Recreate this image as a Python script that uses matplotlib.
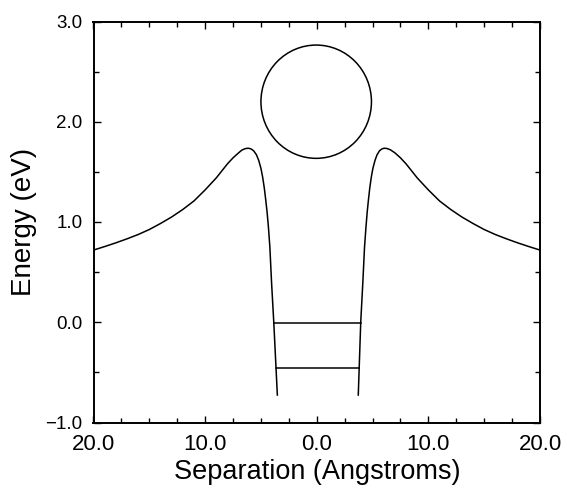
import matplotlib

matplotlib.use("Agg")
import matplotlib.pyplot as plt
from matplotlib.patches import Ellipse
from matplotlib.ticker import FixedLocator, FuncFormatter, MultipleLocator

# potential curve, left branch (from far side in to the well wall)
left_x = [-20.0, -19.0, -18.0, -17.0, -16.0, -15.0, -14.0, -13.0, -12.0, -11.0,
          -10.0, -9.5, -9.0, -8.5, -8.0, -7.5, -7.0, -6.7, -6.4, -6.15, -5.9,
          -5.65, -5.4, -5.2, -5.0, -4.85, -4.7, -4.57, -4.45, -4.33, -4.2,
          -4.05, -3.85, -3.53]
left_y = [0.72, 0.755, 0.792, 0.832, 0.875, 0.925, 0.985, 1.05, 1.125, 1.21,
          1.32, 1.38, 1.44, 1.51, 1.58, 1.64, 1.69, 1.718, 1.732, 1.736, 1.73,
          1.71, 1.67, 1.615, 1.535, 1.45, 1.34, 1.22, 1.1, 0.95, 0.75,
          0.4, 0.0, -0.726]

# right branch (from well wall out to the far side)
right_x = [3.72, 3.94, 4.13, 4.28, 4.41, 4.52, 4.63, 4.75, 4.89, 5.03, 5.22,
           5.4, 5.62, 5.85, 6.05, 6.3, 6.6, 7.0, 7.5, 8.0, 8.5, 9.0, 9.5,
           10.0, 11.0, 12.0, 13.0, 14.0, 15.0, 16.0, 17.0, 18.0, 19.0, 20.0]
right_y = [-0.726, 0.0, 0.4, 0.75, 0.95, 1.1, 1.22, 1.34, 1.45, 1.535, 1.615,
           1.67, 1.71, 1.73, 1.736, 1.733, 1.72, 1.69, 1.64, 1.58, 1.51, 1.44,
           1.38, 1.32, 1.21, 1.125, 1.05, 0.985, 0.925, 0.875, 0.832, 0.792,
           0.755, 0.72]

# bound levels inside the well
level_y = [-0.01, -0.453]
level_x_start = [-3.85, -3.65]
level_x_end = [3.94, 3.81]

# circle above the barrier
circle_center = (-0.05, 2.2)
circle_width = 9.9
circle_height = 1.13

x_ticks = [-20, -10, 0, 10, 20]
y_ticks = [-1, 0, 1, 2, 3]


def main() -> None:
    plt.rcParams["font.family"] = ["Liberation Sans", "DejaVu Sans"]

    fig = plt.figure(figsize=(5.67, 4.91), dpi=100)
    ax = fig.add_axes([93.5 / 567, 1 - 422.5 / 491, 446.5 / 567, 401 / 491])

    line_kw = {"color": "black", "linewidth": 1.1}
    ax.plot(left_x, left_y, **line_kw)
    ax.plot(right_x, right_y, **line_kw)
    for y, x0, x1 in zip(level_y, level_x_start, level_x_end):
        ax.plot([x0, x1], [y, y], **line_kw)

    ax.add_patch(
        Ellipse(
            circle_center,
            circle_width,
            circle_height,
            fill=False,
            edgecolor="black",
            linewidth=1.1,
        )
    )

    ax.set_xlim(-20, 20)
    ax.set_ylim(-1, 3)

    ax.xaxis.set_major_locator(FixedLocator(x_ticks))
    ax.xaxis.set_minor_locator(MultipleLocator(2.5))
    ax.yaxis.set_major_locator(FixedLocator(y_ticks))
    ax.yaxis.set_minor_locator(MultipleLocator(0.5))
    ax.xaxis.set_major_formatter(FuncFormatter(lambda v, _: f"{abs(v):.1f}"))
    ax.yaxis.set_major_formatter(
        FuncFormatter(lambda v, _: f"{v:.1f}".replace("-", "\u2212"))
    )

    ax.tick_params(which="both", direction="in", top=True, right=True, width=1.0)
    ax.tick_params(which="major", length=5)
    ax.tick_params(which="minor", length=3.5)
    ax.tick_params(axis="x", which="major", labelsize=16, pad=8)
    ax.tick_params(axis="y", which="major", labelsize=13.5, pad=8)

    for spine in ax.spines.values():
        spine.set_linewidth(1.4)

    ax.set_xlabel("Separation (Angstroms)", fontsize=19.5, labelpad=3)
    ax.set_ylabel("Energy (eV)", fontsize=20, labelpad=6)

    fig.savefig("out.png", dpi=100)
    plt.close(fig)


if __name__ == "__main__":
    main()
